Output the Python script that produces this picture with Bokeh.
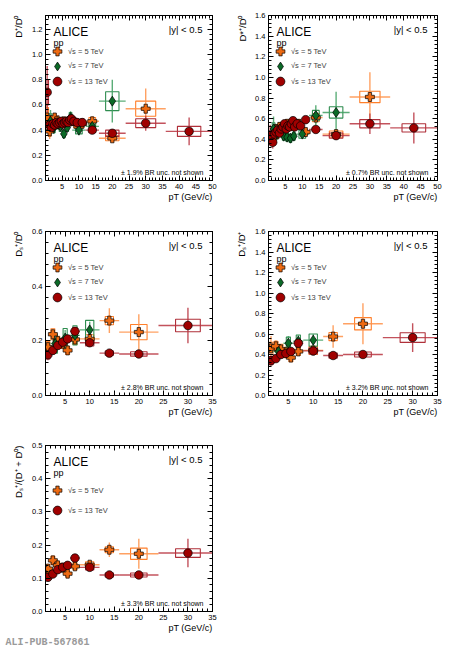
import numpy as np
from bokeh.plotting import figure
from bokeh.models import (Range1d, FixedTicker, LinearAxis, Label, Legend, LegendItem,
                          ColumnDataSource, PrintfTickFormatter, Title)
from bokeh.layouts import gridplot
from bokeh.embed import file_html
from bokeh.resources import INLINE

FONT = "Liberation Sans"

# ---------------- pT bin edges (GeV/c) ----------------
edges_13_d = [0, 1, 1.5, 2, 2.5, 3, 3.5, 4, 4.5, 5, 5.5, 6, 6.5, 7, 7.5, 8, 9, 10, 12, 16, 24, 36, 50]
edges_5_dplus = [0, 1, 1.5, 2, 2.5, 3, 3.5, 4, 5, 6, 7, 8, 10, 12, 16, 24, 36]
edges_5_dstar = [1, 1.5, 2, 2.5, 3, 3.5, 4, 5, 6, 7, 8, 10, 12, 16, 24, 36]
edges_7_d = [1, 2, 3, 4, 5, 6, 7, 8, 12, 16, 24]
edges_13_ds = [1, 2, 3, 4, 5, 6, 8, 12, 16, 24, 36]
edges_5_ds = [1, 2, 3, 4, 5, 6, 8, 12, 16, 24]
edges_7_ds = [2, 4, 6, 8, 12]

# ---------------- D+/D0 ----------------
dplus_d0_13_y = [0.70, 0.44, 0.42, 0.45, 0.44, 0.46, 0.45, 0.46, 0.47, 0.45, 0.46, 0.47, 0.46, 0.48, 0.49, 0.47, 0.46, 0.46, 0.40, 0.375, 0.455, 0.39]
dplus_d0_13_stat = [0.21, 0.05, 0.03, 0.02, 0.02, 0.02, 0.02, 0.02, 0.02, 0.02, 0.02, 0.02, 0.02, 0.02, 0.03, 0.02, 0.02, 0.02, 0.02, 0.02, 0.06, 0.11]
dplus_d0_13_syst = [0.10, 0.03, 0.03, 0.03, 0.03, 0.03, 0.03, 0.03, 0.03, 0.03, 0.03, 0.03, 0.03, 0.03, 0.03, 0.03, 0.03, 0.03, 0.02, 0.025, 0.035, 0.04]
dplus_d0_5_y = [0.50, 0.39, 0.43, 0.46, 0.50, 0.47, 0.45, 0.44, 0.47, 0.46, 0.47, 0.45, 0.45, 0.47, 0.335, 0.57]
dplus_d0_5_stat = [0.12, 0.06, 0.04, 0.03, 0.03, 0.03, 0.03, 0.02, 0.02, 0.02, 0.02, 0.02, 0.03, 0.04, 0.025, 0.16]
dplus_d0_5_syst = [0.08, 0.04, 0.03, 0.03, 0.03, 0.03, 0.03, 0.03, 0.03, 0.03, 0.03, 0.03, 0.03, 0.03, 0.02, 0.06]
dplus_d0_7_y = [0.47, 0.42, 0.45, 0.43, 0.37, 0.42, 0.50, 0.40, 0.43, 0.63]
dplus_d0_7_stat = [0.09, 0.05, 0.04, 0.03, 0.03, 0.03, 0.05, 0.04, 0.05, 0.17]
dplus_d0_7_syst = [0.06, 0.04, 0.04, 0.04, 0.03, 0.03, 0.04, 0.03, 0.04, 0.075]

# ---------------- D*+/D0 ----------------
dstar_d0_13_y = [0.44, 0.37, 0.45, 0.47, 0.49, 0.46, 0.50, 0.52, 0.55, 0.50, 0.53, 0.52, 0.55, 0.58, 0.52, 0.55, 0.53, 0.59, 0.495, 0.435, 0.55, 0.51]
dstar_d0_13_stat = [0.10, 0.06, 0.04, 0.03, 0.03, 0.03, 0.03, 0.03, 0.03, 0.03, 0.03, 0.03, 0.03, 0.03, 0.03, 0.03, 0.03, 0.03, 0.02, 0.03, 0.10, 0.15]
dstar_d0_13_syst = [0.04, 0.03, 0.03, 0.03, 0.03, 0.03, 0.03, 0.03, 0.03, 0.03, 0.03, 0.03, 0.03, 0.03, 0.03, 0.03, 0.03, 0.03, 0.02, 0.025, 0.04, 0.04]
dstar_d0_5_y = [0.43, 0.42, 0.50, 0.47, 0.52, 0.50, 0.51, 0.55, 0.53, 0.55, 0.55, 0.47, 0.61, 0.45, 0.81]
dstar_d0_5_stat = [0.08, 0.05, 0.04, 0.03, 0.03, 0.03, 0.03, 0.03, 0.03, 0.03, 0.03, 0.03, 0.06, 0.05, 0.24]
dstar_d0_5_syst = [0.05, 0.04, 0.04, 0.04, 0.04, 0.04, 0.04, 0.04, 0.04, 0.04, 0.04, 0.03, 0.04, 0.03, 0.055]
dstar_d0_7_y = [0.50, 0.45, 0.47, 0.43, 0.42, 0.41, 0.43, 0.45, 0.63, 0.66]
dstar_d0_7_stat = [0.12, 0.06, 0.04, 0.04, 0.04, 0.04, 0.04, 0.04, 0.10, 0.20]
dstar_d0_7_syst = [0.06, 0.04, 0.04, 0.04, 0.04, 0.04, 0.04, 0.04, 0.05, 0.055]

# ---------------- Ds+/D0 ----------------
ds_d0_13_y = [0.149, 0.165, 0.183, 0.195, 0.207, 0.235, 0.193, 0.155, 0.152, 0.256]
ds_d0_13_stat = [0.02, 0.012, 0.010, 0.010, 0.010, 0.012, 0.010, 0.008, 0.010, 0.065]
ds_d0_13_syst = [0.015, 0.012, 0.012, 0.012, 0.012, 0.014, 0.012, 0.008, 0.008, 0.023]
ds_d0_5_y = [0.177, 0.224, 0.199, 0.190, 0.165, 0.205, 0.207, 0.274, 0.232]
ds_d0_5_stat = [0.025, 0.020, 0.015, 0.015, 0.015, 0.015, 0.015, 0.045, 0.065]
ds_d0_5_syst = [0.020, 0.020, 0.018, 0.018, 0.015, 0.018, 0.015, 0.015, 0.028]
ds_d0_7_y = [0.19, 0.21, 0.22, 0.24]
ds_d0_7_stat = [0.03, 0.03, 0.03, 0.03]
ds_d0_7_syst = [0.035, 0.035, 0.035, 0.035]

# ---------------- Ds+/D+ ----------------
ds_dplus_13_y = [0.34, 0.36, 0.40, 0.41, 0.43, 0.51, 0.435, 0.39, 0.40, 0.565]
ds_dplus_13_stat = [0.05, 0.03, 0.03, 0.03, 0.03, 0.03, 0.03, 0.02, 0.03, 0.14]
ds_dplus_13_syst = [0.04, 0.03, 0.03, 0.03, 0.03, 0.04, 0.03, 0.025, 0.025, 0.047]
ds_dplus_5_y = [0.46, 0.48, 0.45, 0.42, 0.37, 0.43, 0.44, 0.575, 0.70]
ds_dplus_5_stat = [0.12, 0.06, 0.05, 0.04, 0.04, 0.04, 0.04, 0.11, 0.20]
ds_dplus_5_syst = [0.06, 0.05, 0.05, 0.05, 0.04, 0.04, 0.04, 0.04, 0.06]
ds_dplus_7_y = [0.43, 0.51, 0.53, 0.54]
ds_dplus_7_stat = [0.07, 0.07, 0.06, 0.06]
ds_dplus_7_syst = [0.06, 0.06, 0.06, 0.06]

# ---------------- Ds+/(D+ + D0) ----------------
ds_dsum_13_y = [0.103, 0.113, 0.126, 0.133, 0.139, 0.161, 0.133, 0.110, 0.110, 0.176]
ds_dsum_13_stat = [0.012, 0.008, 0.007, 0.007, 0.007, 0.008, 0.007, 0.005, 0.007, 0.043]
ds_dsum_13_syst = [0.010, 0.008, 0.008, 0.008, 0.008, 0.009, 0.008, 0.006, 0.006, 0.013]
ds_dsum_5_y = [0.129, 0.154, 0.139, 0.132, 0.114, 0.136, 0.141, 0.186, 0.174]
ds_dsum_5_stat = [0.015, 0.012, 0.009, 0.009, 0.009, 0.009, 0.009, 0.022, 0.045]
ds_dsum_5_syst = [0.012, 0.012, 0.010, 0.010, 0.009, 0.010, 0.009, 0.009, 0.017]

# ---------------- axis ticks ----------------
x_ticks_50 = [5, 10, 15, 20, 25, 30, 35, 40, 45, 50]
x_ticks_35 = [5, 10, 15, 20, 25, 30, 35]
y_ticks_dplus = [0.0, 0.2, 0.4, 0.6, 0.8, 1.0, 1.2]
y_ticks_16 = [0.0, 0.2, 0.4, 0.6, 0.8, 1.0, 1.2, 1.4, 1.6]
y_ticks_ds_d0 = [0.0, 0.2, 0.4, 0.6]
y_ticks_dsum = [0.0, 0.1, 0.2, 0.3, 0.4, 0.5]

STYLE = {
    "5": dict(marker="plus", fill="#EE6A12", bar="#FF9147", box="#FF7F2A", size=9,
              label="\u221as = 5 TeV"),
    "7": dict(marker="diamond", fill="#0B6A27", bar="#3E9F60", box="#2F8D50", size=10,
              label="\u221as = 7 TeV"),
    "13": dict(marker="circle", fill="#A00000", bar="#B83440", box="#B0303A", size=8.5,
               label="\u221as = 13 TeV"),
}


def txt(p, text, x, y, size, align="left", baseline="middle", style="normal",
        color="black", font=FONT):
    p.add_layout(Label(x=x, y=y, x_units="screen", y_units="screen", text=text,
                       text_font=font, text_font_size=size, text_align=align,
                       text_baseline=baseline, text_font_style=style,
                       text_color=color))


def side_title(p, text, side, size, align, valign, standoff, offset=0,
               style="normal", color="black", font=FONT):
    p.add_layout(Title(text=text, align=align, vertical_align=valign,
                       standoff=standoff, offset=offset, text_font=font,
                       text_font_size=size, text_font_style=style,
                       text_color=color), side)


def style_axis(ax, labels=True):
    ax.axis_line_color = "black"
    ax.major_tick_in = 5
    ax.major_tick_out = 0
    ax.minor_tick_in = 3
    ax.minor_tick_out = 0
    ax.major_tick_line_color = "black"
    ax.minor_tick_line_color = "black"
    if labels:
        ax.major_label_text_font = FONT
        ax.major_label_text_font_size = "7.5px"
        ax.major_label_text_color = "black"
        ax.major_label_standoff = 3
    else:
        ax.major_label_text_font_size = "1px"
        ax.major_label_text_color = None
        ax.major_label_standoff = 0


def make_panel(W, H, bl, br, bt, bb, xr, yr, xticks, xminor, yticks, ystep, ylabel,
               brtext, series, box_frac, min_box, legend_rows, ylabel_standoff):
    fw = W - bl - br
    fh = H - bt - bb
    p = figure(width=W, height=H, x_range=Range1d(*xr), y_range=Range1d(*yr),
               output_backend="svg", toolbar_location=None,
               min_border_left=bl, min_border_right=br, min_border_top=bt,
               min_border_bottom=bb, background_fill_color="white",
               border_fill_color="white", outline_line_color="black",
               outline_line_width=1)
    p.grid.visible = False
    yminor = list(np.round(np.arange(yr[0], yr[1] + 1e-9, ystep / 5.0), 5))
    xt = FixedTicker(ticks=xticks, minor_ticks=xminor)
    yt = FixedTicker(ticks=yticks, minor_ticks=yminor)
    xa = p.below[0]
    ya = p.left[0]
    xa.ticker = xt
    ya.ticker = yt
    ya.formatter = PrintfTickFormatter(format="%.1f")
    style_axis(xa)
    style_axis(ya)
    top = LinearAxis(ticker=FixedTicker(ticks=xticks, minor_ticks=xminor))
    right = LinearAxis(ticker=FixedTicker(ticks=yticks, minor_ticks=yminor))
    style_axis(top, labels=False)
    style_axis(right, labels=False)
    p.add_layout(top, "above")
    p.add_layout(right, "right")

    sources = []
    for key, edges, y, stat, syst in series:
        st = STYLE[key]
        lo = np.asarray(edges[:-1], float)
        hi = np.asarray(edges[1:], float)
        x = 0.5 * (lo + hi)
        yv = np.asarray(y, float)
        s = np.asarray(stat, float)
        sy = np.asarray(syst, float)
        half = 0.5 * np.maximum(box_frac * (hi - lo), min_box)
        src = ColumnDataSource(dict(x=x, lo=lo, hi=hi, y=yv, e0=yv - s, e1=yv + s,
                                    b0=x - half, b1=x + half, s0=yv - sy, s1=yv + sy))
        p.quad(left="b0", right="b1", bottom="s0", top="s1", source=src,
               fill_alpha=0, line_color=st["box"], line_width=1.1)
        p.segment(x0="lo", x1="hi", y0="y", y1="y", source=src,
                  line_color=st["bar"], line_width=1.4, line_alpha=0.85)
        p.segment(x0="x", x1="x", y0="e0", y1="e1", source=src,
                  line_color=st["bar"], line_width=1.4, line_alpha=0.85)
        sources.append((key, src))

    items = []
    for key, src in sources:
        st = STYLE[key]
        r = p.scatter("x", "y", source=src, marker=st["marker"], size=st["size"],
                      fill_color=st["fill"], line_color="black", line_width=0.7)
        items.append((key, r))
    order = sorted(items, key=lambda kr: int(kr[0]))

    # one single-entry legend per row, so every row sits where the reference has it
    gh = 22
    for (k, r), dy in zip(order, legend_rows):
        legend = Legend(items=[LegendItem(label=STYLE[k]["label"], renderers=[r])],
                        location=(1, fh - dy - gh / 2.0),
                        glyph_width=gh, glyph_height=gh, label_height=gh,
                        label_width=10, label_standoff=0, spacing=0, padding=0,
                        margin=0, border_line_alpha=0, background_fill_alpha=0,
                        label_text_font=FONT, label_text_font_size="7.5px",
                        label_text_baseline="middle")
        p.add_layout(legend)

    # texts inside the frame (frame-relative screen coordinates)
    txt(p, "ALICE", 8, fh - 16.7, "12px", baseline="alphabetic")
    txt(p, "pp", 8, fh - 27.5, "9px", baseline="alphabetic")
    txt(p, "|y| < 0.5", fw - 10, fh - 14, "9.5px", align="right")
    txt(p, brtext, fw - 9, 8, "7px", align="right")

    # texts outside the frame: side-panel titles
    side_title(p, ylabel, "left", "9.5px", "right", "top", ylabel_standoff)
    side_title(p, "pT (GeV/c)", "below", "9px", "right", "top", 0)
    return p


x_minor_50 = list(range(0, 51))
x_minor_35 = list(range(1, 36))
rows3 = [36, 50.7, 66]
rows2 = [45, 65]

f1 = make_panel(228, 222, 45, 16, 15, 42, (0, 50), (0, 1.31), x_ticks_50, x_minor_50,
                y_ticks_dplus, 0.2, "D\u207a/D\u2070", "\u00b1 1.9% BR unc. not shown",
                [("5", edges_5_dplus, dplus_d0_5_y, dplus_d0_5_stat, dplus_d0_5_syst),
                 ("7", edges_7_d, dplus_d0_7_y, dplus_d0_7_stat, dplus_d0_7_syst),
                 ("13", edges_13_d, dplus_d0_13_y, dplus_d0_13_stat, dplus_d0_13_syst)],
                0.5, 0.8, rows3, 8)
f2 = make_panel(223, 222, 40, 14, 15, 42, (0, 50), (0, 1.6), x_ticks_50, x_minor_50,
                y_ticks_16, 0.2, "D*\u207a/D\u2070", "\u00b1 0.7% BR unc. not shown",
                [("5", edges_5_dstar, dstar_d0_5_y, dstar_d0_5_stat, dstar_d0_5_syst),
                 ("7", edges_7_d, dstar_d0_7_y, dstar_d0_7_stat, dstar_d0_7_syst),
                 ("13", edges_13_d, dstar_d0_13_y, dstar_d0_13_stat, dstar_d0_13_syst)],
                0.5, 0.8, rows3, 6)
f3 = make_panel(228, 215, 45, 16, 9, 42, (1, 35), (0, 0.6), x_ticks_35, x_minor_35,
                y_ticks_ds_d0, 0.2, "D\u209b\u207a/D\u2070", "\u00b1 2.8% BR unc. not shown",
                [("5", edges_5_ds, ds_d0_5_y, ds_d0_5_stat, ds_d0_5_syst),
                 ("7", edges_7_ds, ds_d0_7_y, ds_d0_7_stat, ds_d0_7_syst),
                 ("13", edges_13_ds, ds_d0_13_y, ds_d0_13_stat, ds_d0_13_syst)],
                0.42, 0.8, rows3, 8)
f4 = make_panel(223, 215, 40, 14, 9, 42, (1, 35), (0, 1.6), x_ticks_35, x_minor_35,
                y_ticks_16, 0.2, "D\u209b\u207a/D\u207a", "\u00b1 3.2% BR unc. not shown",
                [("5", edges_5_ds, ds_dplus_5_y, ds_dplus_5_stat, ds_dplus_5_syst),
                 ("7", edges_7_ds, ds_dplus_7_y, ds_dplus_7_stat, ds_dplus_7_syst),
                 ("13", edges_13_ds, ds_dplus_13_y, ds_dplus_13_stat, ds_dplus_13_syst)],
                0.42, 0.8, rows3, 6.5)
f5 = make_panel(228, 213, 45, 16, 8, 39, (1, 35), (0, 0.5), x_ticks_35, x_minor_35,
                y_ticks_dsum, 0.1, "D\u209b\u207a/(D\u207a + D\u2070)", "\u00b1 3.3% BR unc. not shown",
                [("5", edges_5_ds, ds_dsum_5_y, ds_dsum_5_stat, ds_dsum_5_syst),
                 ("13", edges_13_ds, ds_dsum_13_y, ds_dsum_13_stat, ds_dsum_13_syst)],
                0.42, 0.8, rows2, 8)
side_title(f5, "ALI-PUB-567861", "below", "10px", "left", "bottom", 0, offset=-40,
           style="bold", color="#9a9a9a", font="Liberation Mono")

grid = gridplot([[f1, f2], [f3, f4], [f5, None]], toolbar_location=None)
open("out.html", "w").write(file_html(grid, INLINE))
